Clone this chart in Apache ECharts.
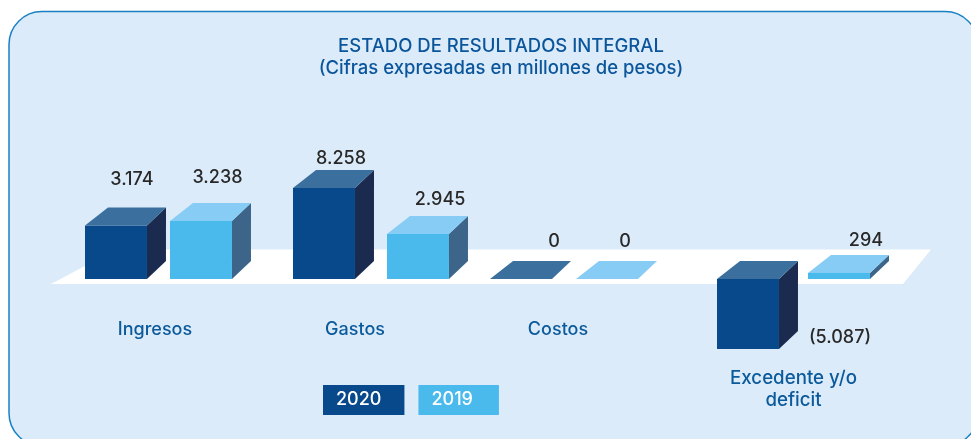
<!DOCTYPE html>
<html>
<head>
<meta charset="utf-8">
<style>html,body{margin:0;padding:0;background:#fff}#chart{width:971px;height:439px}</style>
<script src="https://cdn.jsdelivr.net/npm/echarts@6/dist/echarts.min.js"></script>
</head>
<body>
<div id="chart"></div>
<script>
// datos
var categories = ['Ingresos', 'Gastos', 'Costos', 'Excedente y/o\ndeficit'];
var seriesNames = ['2020', '2019'];
// cifras impresas en la imagen
var values2020 = [3174, 8258, 0, -5087];
var values2019 = [3238, 2945, 0, 294];
// altura de cada barra tal como se lee en la imagen (no es proporcional a la cifra)
var height2020 = [53.5, 91, 0, -70];
var height2019 = [58, 45, 0, 6];

// ajustes de layout por categoria
var barShift = [[-74, 11], [-77.5, 16.5], [-92, -6], [-76.5, 14.5]];
var labelShift = [
  [[16, -46], [16.5, -43.5]],
  [[17, -29.5], [22, -34.5]],
  [[33, -37.5], [18, -37.5]],
  [[92, -11.5], [27, -32]]
];
var labelPad = [[0, 8, 0, 0], [0, 31, 0, 0], [0, 48, 0, 0], [48, 0, 0, 0]];
var labelSize = [18, 18, 18, 18.7];
var legendPad = [[7, 23, 5, 13], [7, 26, 5, 13]];

var colors = [
  { front: '#07498a', top: '#3b709e', side: '#1a2b4f' },
  { front: '#4abaed', top: '#87ccf5', side: '#3c6589' }
];
var font = 'Inter';

function formatValue(v) {
  var s = String(Math.abs(v)).replace(/\B(?=(\d{3})+$)/g, '.');
  return v < 0 ? '(' + s + ')' : s;
}

function renderBar(params, api) {
  var s = params.seriesIndex;
  var i = api.value(0);
  var c = colors[s];
  var w = api.size([1, 0])[0] * 0.293;
  var base = api.coord([i, 0]);
  var end = api.coord([i, api.value(1)]);
  var l = base[0] + barShift[i][s];
  var r = l + w;
  var t = Math.min(base[1], end[1]);
  var b = Math.max(base[1], end[1]);
  var children = [];
  if (b > t) {
    children.push({ type: 'rect', shape: { x: l, y: t, width: w, height: b - t }, style: { fill: c.front } });
    children.push({ type: 'polygon', shape: { points: [[r, t], [r + 19, t - 18], [r + 19, b - 18], [r, b]] }, style: { fill: c.side } });
  }
  children.push({ type: 'polygon', shape: { points: [[l, t], [r, t], [r + 19, t - 18], [l + 23, t - 18]] }, style: { fill: c.top } });
  var shift = labelShift[i][s];
  children.push({
    type: 'text',
    style: {
      x: l + w / 2 + shift[0],
      y: (api.value(1) < 0 ? b : t) + shift[1],
      text: formatValue(api.value(2)),
      align: 'center',
      verticalAlign: 'middle',
      fill: '#282828',
      font: '500 18px ' + font
    }
  });
  return { type: 'group', children: children };
}

function barData(heights, values) {
  return heights.map(function (h, i) { return [i, h, values[i]]; });
}

var chart = echarts.init(document.getElementById('chart'));
chart.setOption({
  animation: false,
  backgroundColor: '#fff',
  title: {
    text: 'ESTADO DE RESULTADOS INTEGRAL\n(Cifras expresadas en millones de pesos)',
    left: 496,
    top: 30,
    textAlign: 'center',
    textStyle: { color: '#0b569b', fontFamily: font, fontSize: 18.5, fontWeight: 500, lineHeight: 22 }
  },
  legend: {
    left: 318,
    top: 385,
    padding: 0,
    icon: 'none',
    itemWidth: 0,
    itemGap: 9,
    data: seriesNames.map(function (name, k) {
      return {
        name: name,
        textStyle: {
          color: '#fff',
          fontFamily: font,
          fontSize: 18,
          fontWeight: 500,
          backgroundColor: colors[k].front,
          padding: legendPad[k]
        }
      };
    })
  },
  grid: { left: 53.25, right: 71.75, top: 129, bottom: 50, outerBoundsMode: 'none' },
  xAxis: {
    type: 'category',
    offset: -110,
    data: categories.map(function (name, i) {
      return { value: name, textStyle: { padding: labelPad[i], fontSize: labelSize[i] } };
    }),
    axisLine: { show: false },
    axisTick: { show: false },
    axisLabel: {
      interval: 0,
      margin: 40,
      color: '#0b5a9c',
      fontFamily: font,
      fontWeight: 500,
      lineHeight: 22
    }
  },
  yAxis: { type: 'value', min: -110, max: 150, show: false },
  graphic: [
    {
      type: 'rect',
      z: -2,
      silent: true,
      shape: { x: 9, y: 11.5, width: 969, height: 434.5, r: 33 },
      style: { fill: '#dcebf9', stroke: '#1a80c4', lineWidth: 1.5 }
    },
    {
      type: 'polygon',
      z: -1,
      silent: true,
      shape: { points: [[51, 284], [116, 249.5], [931, 249.5], [903, 284]] },
      style: { fill: '#fff' }
    }
  ],
  series: [
    { name: seriesNames[0], type: 'custom', renderItem: renderBar, data: barData(height2020, values2020), encode: { x: 0, y: 1 }, color: colors[0].front },
    { name: seriesNames[1], type: 'custom', renderItem: renderBar, data: barData(height2019, values2019), encode: { x: 0, y: 1 }, color: colors[1].front }
  ]
});
</script>
</body>
</html>
